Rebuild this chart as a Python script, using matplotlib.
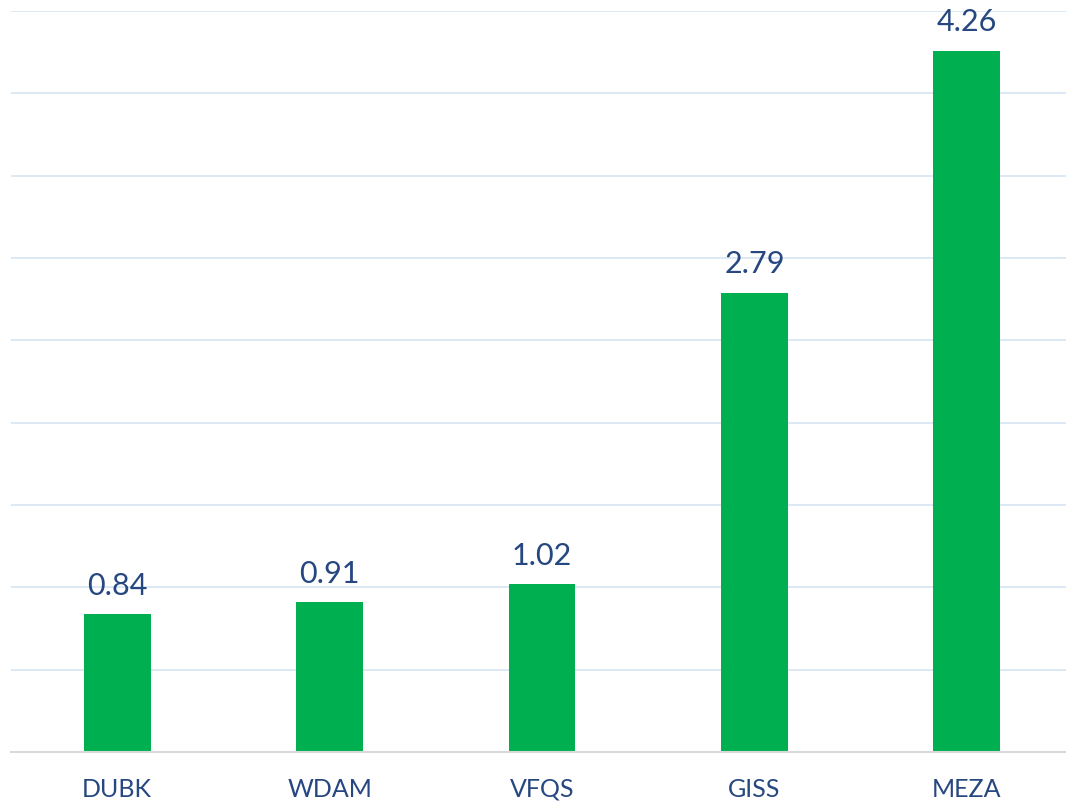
import matplotlib
matplotlib.use("Agg")
import matplotlib.pyplot as plt
import numpy as np

categories = ["DUBK", "WDAM", "VFQS", "GISS", "MEZA"]
values = [0.84, 0.91, 1.02, 2.79, 4.26]

plt.rcParams['font.family'] = ['Lato', 'DejaVu Sans']

fig = plt.figure(figsize=(10.66, 8.04), dpi=100)
ax = fig.add_axes([11/1066, 51/804, 1062/1066, 741/804])

x = np.arange(len(categories))
ax.bar(x, values, width=0.315, color="#00B050", zorder=3)

ax.set_xlim(-0.5, len(categories) - 0.5)
ax.set_ylim(0, 4.5)
ax.set_yticks(np.arange(0, 4.51, 0.5))
ax.yaxis.grid(True, color="#DAE6F4", linewidth=1.3, zorder=0)
ax.set_axisbelow(True)
ax.tick_params(axis='y', left=False, labelleft=False)
ax.tick_params(axis='x', length=0, pad=18, labelsize=18, labelcolor="#26477F")
ax.set_xticks(x)
ax.set_xticklabels(categories)

for s in ["top", "right", "left"]:
    ax.spines[s].set_visible(False)
ax.spines["bottom"].set_color("#D9D9D9")
ax.spines["bottom"].set_linewidth(1.5)
ax.spines["bottom"].set_zorder(4)

for xi, v in zip(x, values):
    ax.annotate(f"{v:.2f}", (xi, v), xytext=(0, 14.5), textcoords="offset points",
                ha="center", va="baseline", fontsize=22, color="#26477F")

fig.savefig("out.png", dpi=100)
